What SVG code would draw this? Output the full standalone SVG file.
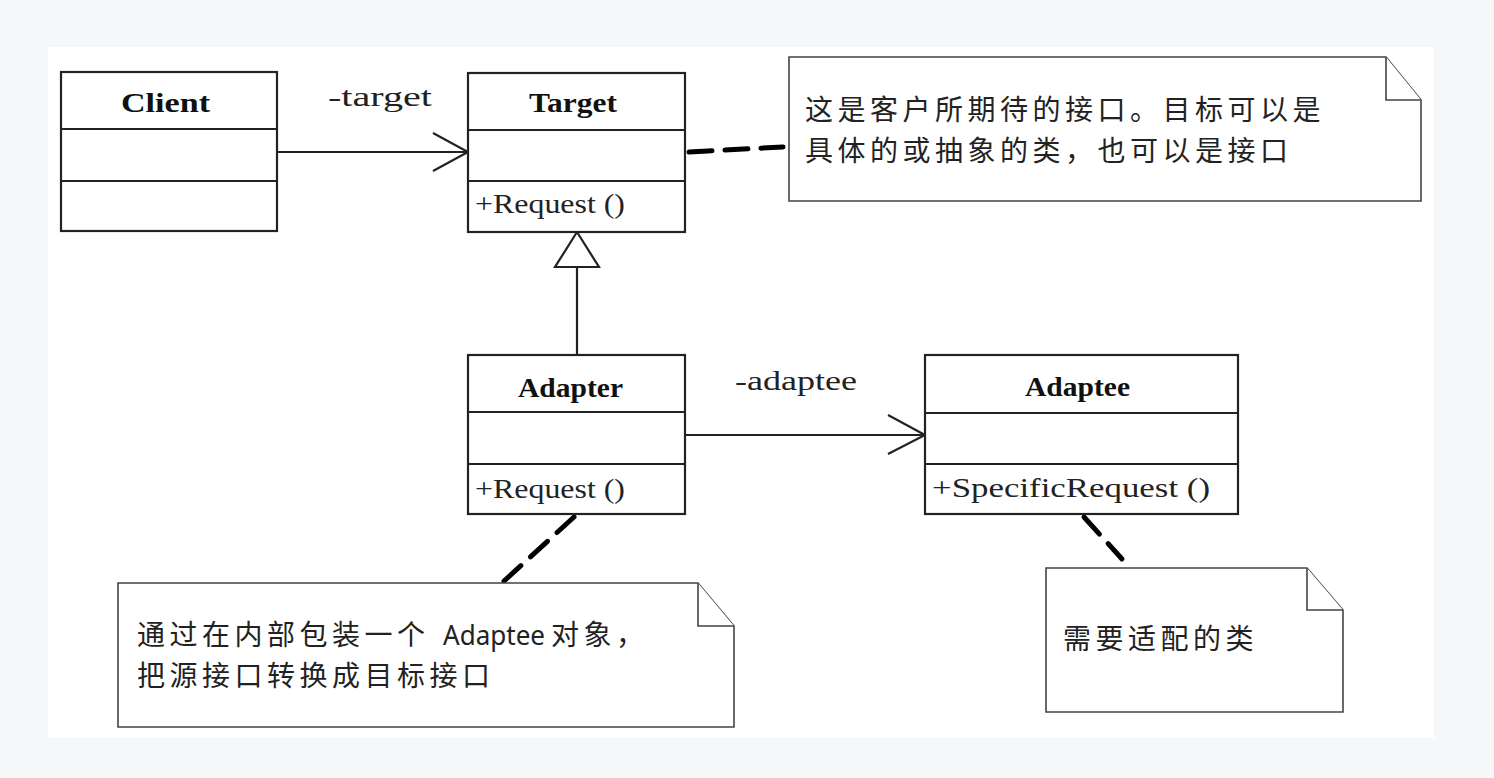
<svg xmlns="http://www.w3.org/2000/svg" width="1494" height="778" viewBox="0 0 1494 778">
<style>
.box{fill:#fff;stroke:#222;stroke-width:2.2}
.div{stroke:#222;stroke-width:2.2}
.note{fill:#fff;stroke:#444;stroke-width:1.6}
.name{font-family:"Liberation Serif",serif;font-weight:bold;font-size:28px;fill:#111}
.op{font-family:"Liberation Serif",serif;font-size:27px;fill:#222}
.cn{font-family:"Noto Sans CJK SC","Noto Sans",sans-serif;font-size:28px;letter-spacing:4.5px;fill:#222}
.lat{font-family:"Noto Sans","Noto Sans CJK SC",sans-serif;font-size:28px;fill:#222}
.line{stroke:#222;stroke-width:2.2;fill:none}
.dash{stroke:#000;stroke-width:5;fill:none;stroke-dasharray:23 13;stroke-linecap:round}
</style>
<rect x="0" y="0" width="1494" height="778" fill="#f6f7f9"/>
<rect x="48" y="47" width="1386" height="691" fill="#fff"/>

<g id="connectors">
  <line class="line" x1="277" y1="152" x2="468" y2="152"/>
  <polyline class="line" points="433,133 468,152 433,171"/>
  <text class="op" x="328" y="106" textLength="104" lengthAdjust="spacingAndGlyphs">-target</text>
  <line class="line" x1="577" y1="267" x2="577" y2="355"/>
  <polygon points="577,232 555,267 599,267" fill="#fff" stroke="#222" stroke-width="2.2"/>
  <line class="line" x1="685" y1="435" x2="925" y2="435"/>
  <polyline class="line" points="888,415 925,435 888,454"/>
  <text class="op" x="735" y="390" textLength="122" lengthAdjust="spacingAndGlyphs">-adaptee</text>
  <line class="dash" x1="689" y1="152" x2="783" y2="147"/>
  <line class="dash" x1="574" y1="517" x2="504" y2="581"/>
  <line class="dash" x1="1084" y1="517" x2="1122" y2="559"/>
</g>

<g id="client">
  <rect class="box" x="61" y="72" width="216" height="159"/>
  <line class="div" x1="61" y1="129" x2="277" y2="129"/>
  <line class="div" x1="61" y1="181" x2="277" y2="181"/>
  <text class="name" x="121" y="112" textLength="89" lengthAdjust="spacingAndGlyphs">Client</text>
</g>

<g id="target">
  <rect class="box" x="468" y="73" width="217" height="159"/>
  <line class="div" x1="468" y1="130" x2="685" y2="130"/>
  <line class="div" x1="468" y1="181" x2="685" y2="181"/>
  <text class="name" x="529" y="112" textLength="88" lengthAdjust="spacingAndGlyphs">Target</text>
  <text class="op" x="475" y="213" textLength="150" lengthAdjust="spacingAndGlyphs">+Request ()</text>
</g>

<g id="adapter">
  <rect class="box" x="468" y="355" width="217" height="159"/>
  <line class="div" x1="468" y1="412" x2="685" y2="412"/>
  <line class="div" x1="468" y1="464" x2="685" y2="464"/>
  <text class="name" x="518" y="397" textLength="105" lengthAdjust="spacingAndGlyphs">Adapter</text>
  <text class="op" x="475" y="498" textLength="150" lengthAdjust="spacingAndGlyphs">+Request ()</text>
</g>

<g id="adaptee">
  <rect class="box" x="925" y="355" width="313" height="159"/>
  <line class="div" x1="925" y1="413" x2="1238" y2="413"/>
  <line class="div" x1="925" y1="464" x2="1238" y2="464"/>
  <text class="name" x="1025" y="396" textLength="105" lengthAdjust="spacingAndGlyphs">Adaptee</text>
  <text class="op" x="932" y="497" textLength="278" lengthAdjust="spacingAndGlyphs">+SpecificRequest ()</text>
</g>

<g id="note-target">
  <path class="note" d="M789,57 H1386 L1421,100 V201 H789 Z"/>
  <path class="note" d="M1386,57 V100 H1421" fill="none"/>
  <text class="cn" x="805" y="120">这是客户所期待的接口。目标可以是</text>
  <text class="cn" x="805" y="161">具体的或抽象的类，也可以是接口</text>
</g>

<g id="note-adapter">
  <path class="note" d="M118,583 H698 L734,626 V727 H118 Z"/>
  <path class="note" d="M698,583 V626 H734" fill="none"/>
  <text class="cn" x="137" y="645">通过在内部包装一个</text>
  <text class="lat" x="443" y="645" textLength="102" lengthAdjust="spacingAndGlyphs">Adaptee</text>
  <text class="cn" x="551" y="645">对象，</text>
  <text class="cn" x="137" y="686">把源接口转换成目标接口</text>
</g>

<g id="note-adaptee">
  <path class="note" d="M1046,568 H1307 L1343,610 V712 H1046 Z"/>
  <path class="note" d="M1307,568 V610 H1343" fill="none"/>
  <text class="cn" x="1063" y="649">需要适配的类</text>
</g>
</svg>
